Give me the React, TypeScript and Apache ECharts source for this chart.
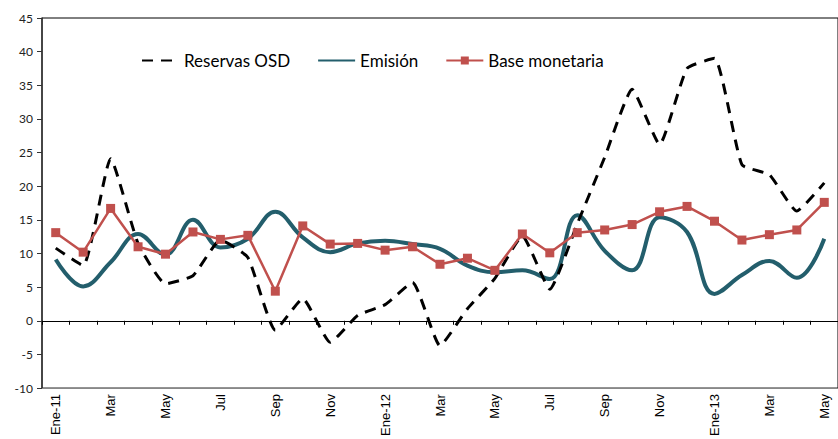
import React, { useEffect, useRef } from "react";
import * as echarts from "echarts";

const categories = [
  "Ene-11", "Feb", "Mar", "Abr", "May", "Jun", "Jul", "Ago", "Sep", "Oct", "Nov", "Dic",
  "Ene-12", "Feb", "Mar", "Abr", "May", "Jun", "Jul", "Ago", "Sep", "Oct", "Nov", "Dic",
  "Ene-13", "Feb", "Mar", "Abr", "May",
];

const reservasOSD = [
  10.8, 8.2, 24.1, 11.5, 5.5, 6.7, 12.0, 9.4, -1.4, 3.3, -3.2, 0.8,
  2.4, 5.7, -3.7, 1.8, 6.3, 12.6, 4.7, 14.4, 24.3, 34.4, 26.2, 37.5,
  39.0, 23.2, 21.7, 16.3, 20.5,
];

const emision = [
  9.1, 5.1, 8.7, 12.9, 9.8, 15.0, 10.9, 12.2, 16.2, 12.4, 10.2, 11.5,
  11.9, 11.4, 10.7, 8.2, 7.2, 7.5, 6.2, 15.7, 10.4, 7.5, 15.4, 13.2,
  4.0, 6.8, 8.9, 6.4, 12.2,
];

const baseMonetaria = [
  13.1, 10.2, 16.7, 11.0, 9.9, 13.2, 12.1, 12.7, 4.4, 14.1, 11.4, 11.5,
  10.5, 11.0, 8.4, 9.3, 7.5, 12.9, 10.1, 13.1, 13.5, 14.3, 16.2, 17.0,
  14.8, 12.0, 12.8, 13.5, 17.6,
];

const yMin = -10;
const yMax = 45;
const yInterval = 5;

export default function App() {
  const ref = useRef<HTMLDivElement>(null);
  useEffect(() => {
    if (!ref.current) return;
    const chart = echarts.init(ref.current, null, { renderer: "svg" });
    chart.setOption({
      animation: false,
      backgroundColor: "#ffffff",
      grid: {
        left: 42,
        top: 18,
        bottom: 49,
        right: -10,
        show: true,
        borderColor: "#000000",
        borderWidth: 1,
      },
      legend: {
        left: 136,
        top: 47,
        itemWidth: 37,
        itemHeight: 10,
        itemGap: 27,
        textStyle: { fontFamily: "Lato", fontSize: 17, color: "#000" },
        data: [
          { name: "Reservas OSD", itemStyle: { opacity: 0 } },
          { name: "Emisión", itemStyle: { opacity: 0 } },
          { name: "Base monetaria" },
        ],
      },
      xAxis: [
        {
          type: "category",
          data: categories,
          boundaryGap: true,
          position: "bottom",
          axisLine: { onZero: true, lineStyle: { color: "#000", width: 1 } },
          axisTick: { show: true, interval: 0, length: 4, lineStyle: { color: "#000" } },
          axisLabel: { show: false },
          splitLine: { show: false },
        },
        {
          type: "category",
          data: categories,
          boundaryGap: true,
          position: "bottom",
          axisLine: { onZero: false, lineStyle: { color: "#888", width: 1 } },
          axisTick: { show: false },
          axisLabel: {
            interval: 1,
            rotate: 90,
            margin: 6,
            fontFamily: "Liberation Sans",
            fontSize: 13,
            color: "#000",
          },
          splitLine: { show: false },
        },
      ],
      yAxis: {
        type: "value",
        min: yMin,
        max: yMax,
        interval: yInterval,
        axisLine: { show: true, lineStyle: { color: "#333", width: 1.5 } },
        axisTick: { show: true, length: 5, lineStyle: { color: "#333" } },
        axisLabel: { fontFamily: "Lato", fontSize: 12, color: "#222", margin: 9 },
        splitLine: { show: false },
      },
      series: [
        {
          name: "Reservas OSD",
          type: "line",
          data: reservasOSD,
          symbol: "none",
          smooth: 0.15,
          color: "#000000",
          lineStyle: { color: "#000000", width: 3, type: [11, 8] },
          z: 3,
        },
        {
          name: "Emisión",
          type: "line",
          data: emision,
          symbol: "none",
          smooth: 0.4,
          color: "#235E6C",
          lineStyle: { color: "#235E6C", width: 4 },
          z: 2,
        },
        {
          name: "Base monetaria",
          type: "line",
          data: baseMonetaria,
          symbol: "rect",
          symbolSize: 9,
          color: "#C0504D",
          itemStyle: { color: "#C0504D" },
          lineStyle: { color: "#C0504D", width: 2.5 },
          z: 4,
        },
      ],
    });
    return () => chart.dispose();
  }, []);
  return <div ref={ref} style={{ width: 838, height: 439, position: "absolute", left: 0, top: 0 }} />;
}
